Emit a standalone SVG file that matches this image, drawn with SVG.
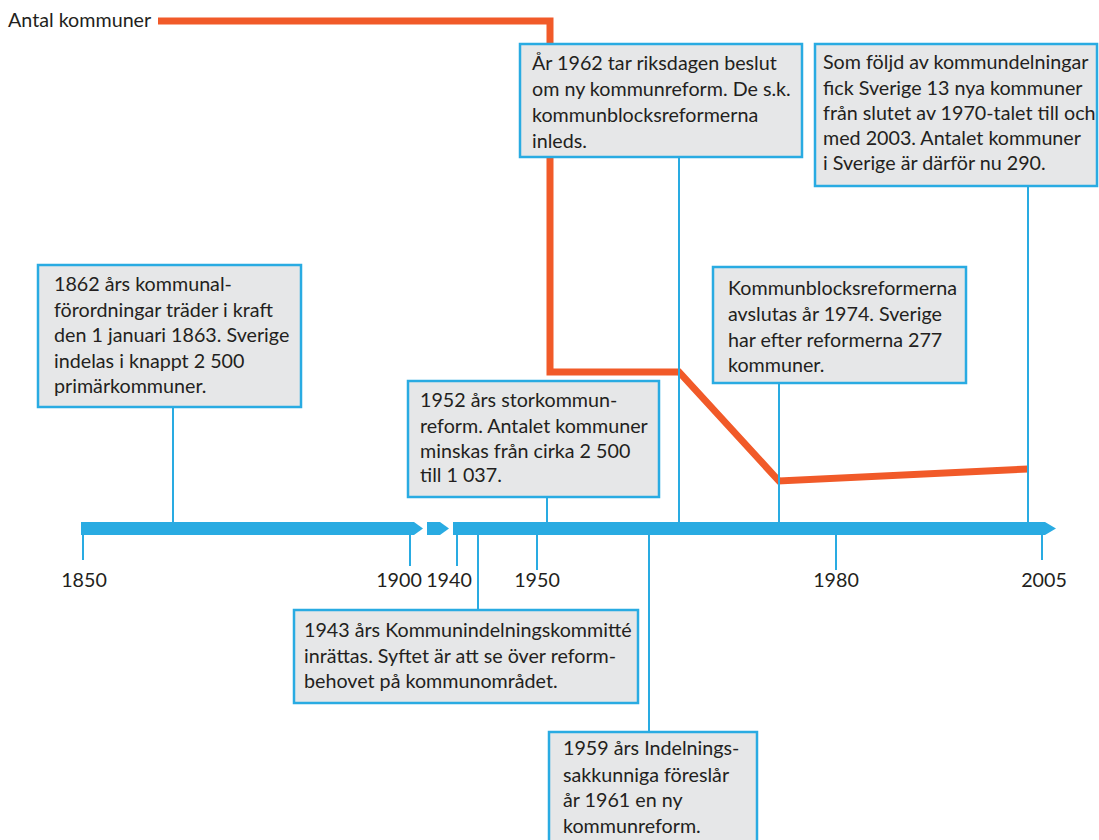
<svg xmlns="http://www.w3.org/2000/svg" width="1099" height="840" viewBox="0 0 1099 840">
<style>
text{font-family:Lato,"Liberation Sans",sans-serif;font-size:19.7px;fill:#231f20}
.box{fill:#e6e7e8;stroke:#29abe2;stroke-width:2.5}
.conn{stroke:#29abe2;stroke-width:2;fill:none}
.bar{fill:#29abe2}
.tick{text-anchor:middle}
</style>
<rect width="1099" height="840" fill="#ffffff"/>
<g id="count-line">
<text x="8" y="27">Antal kommuner</text>
<path d="M158,21 H550 V372 H679 L779,481 L1028,469" fill="none" stroke="#f15a29" stroke-width="7" stroke-linejoin="miter"/>
</g>
<g id="timeline">
<path class="bar" d="M81,522 H414 L423,528.5 L414,535 H81 Z"/>
<path class="bar" d="M427,522 H440 L449,528.5 L440,535 H427 Z"/>
<path class="bar" d="M453,522 H1045 L1056,528.5 L1045,535 H453 Z"/>
<g class="conn">
<line x1="83" y1="535" x2="83" y2="560"/>
<line x1="410" y1="535" x2="410" y2="566"/>
<line x1="457" y1="535" x2="457" y2="566"/>
<line x1="537" y1="535" x2="537" y2="570"/>
<line x1="836" y1="535" x2="836" y2="570"/>
<line x1="1042" y1="535" x2="1042" y2="560"/>
</g>
<text class="tick" x="84" y="587">1850</text>
<text class="tick" x="399" y="587">1900</text>
<text class="tick" x="449" y="587">1940</text>
<text class="tick" x="537" y="587">1950</text>
<text class="tick" x="836" y="587">1980</text>
<text class="tick" x="1044" y="587">2005</text>
</g>
<g id="connectors" class="conn">
<line x1="173" y1="407" x2="173" y2="522"/>
<line x1="547" y1="497" x2="547" y2="522"/>
<line x1="679" y1="157" x2="679" y2="522"/>
<line x1="779" y1="383" x2="779" y2="522"/>
<line x1="1028" y1="186" x2="1028" y2="522"/>
<line x1="478" y1="535" x2="478" y2="610"/>
<line x1="649" y1="535" x2="649" y2="732"/>
</g>
<g id="n1862">
<rect class="box" x="38" y="265" width="263" height="142"/>
<text x="54" y="291">1862 års kommunal-</text>
<text x="54" y="317">förordningar träder i kraft</text>
<text x="54" y="342">den 1 januari 1863. Sverige</text>
<text x="54" y="368">indelas i knappt 2 500</text>
<text x="54" y="393">primärkommuner.</text>
</g>
<g id="n1962">
<rect class="box" x="520" y="44" width="282" height="113"/>
<text x="532" y="70">År 1962 tar riksdagen beslut</text>
<text x="532" y="96">om ny kommunreform. De s.k.</text>
<text x="532" y="122">kommunblocksreformerna</text>
<text x="532" y="148">inleds.</text>
</g>
<g id="n2003">
<rect class="box" x="815" y="44" width="282" height="142"/>
<text x="823" y="69">Som följd av kommundelningar</text>
<text x="823" y="95">fick Sverige 13 nya kommuner</text>
<text x="823" y="120">från slutet av 1970-talet till och</text>
<text x="823" y="145">med 2003. Antalet kommuner</text>
<text x="823" y="170">i Sverige är därför nu 290.</text>
</g>
<g id="n1974">
<rect class="box" x="713" y="267" width="253" height="116"/>
<text x="728" y="295">Kommunblocksreformerna</text>
<text x="728" y="321">avslutas år 1974. Sverige</text>
<text x="728" y="347">har efter reformerna 277</text>
<text x="728" y="372">kommuner.</text>
</g>
<g id="n1952">
<rect class="box" x="408" y="381" width="251" height="116"/>
<text x="420" y="407">1952 års storkommun-</text>
<text x="420" y="433">reform. Antalet kommuner</text>
<text x="420" y="458">minskas från cirka 2 500</text>
<text x="420" y="482">till 1 037.</text>
</g>
<g id="n1943">
<rect class="box" x="294" y="610" width="344" height="93"/>
<text x="304" y="637">1943 års Kommunindelningskommitté</text>
<text x="304" y="663">inrättas. Syftet är att se över reform-</text>
<text x="304" y="688">behovet på kommunområdet.</text>
</g>
<g id="n1959">
<rect class="box" x="549" y="732" width="208" height="120"/>
<text x="563" y="755">1959 års Indelnings-</text>
<text x="563" y="782">sakkunniga föreslår</text>
<text x="563" y="807">år 1961 en ny</text>
<text x="563" y="833">kommunreform.</text>
</g>
</svg>
